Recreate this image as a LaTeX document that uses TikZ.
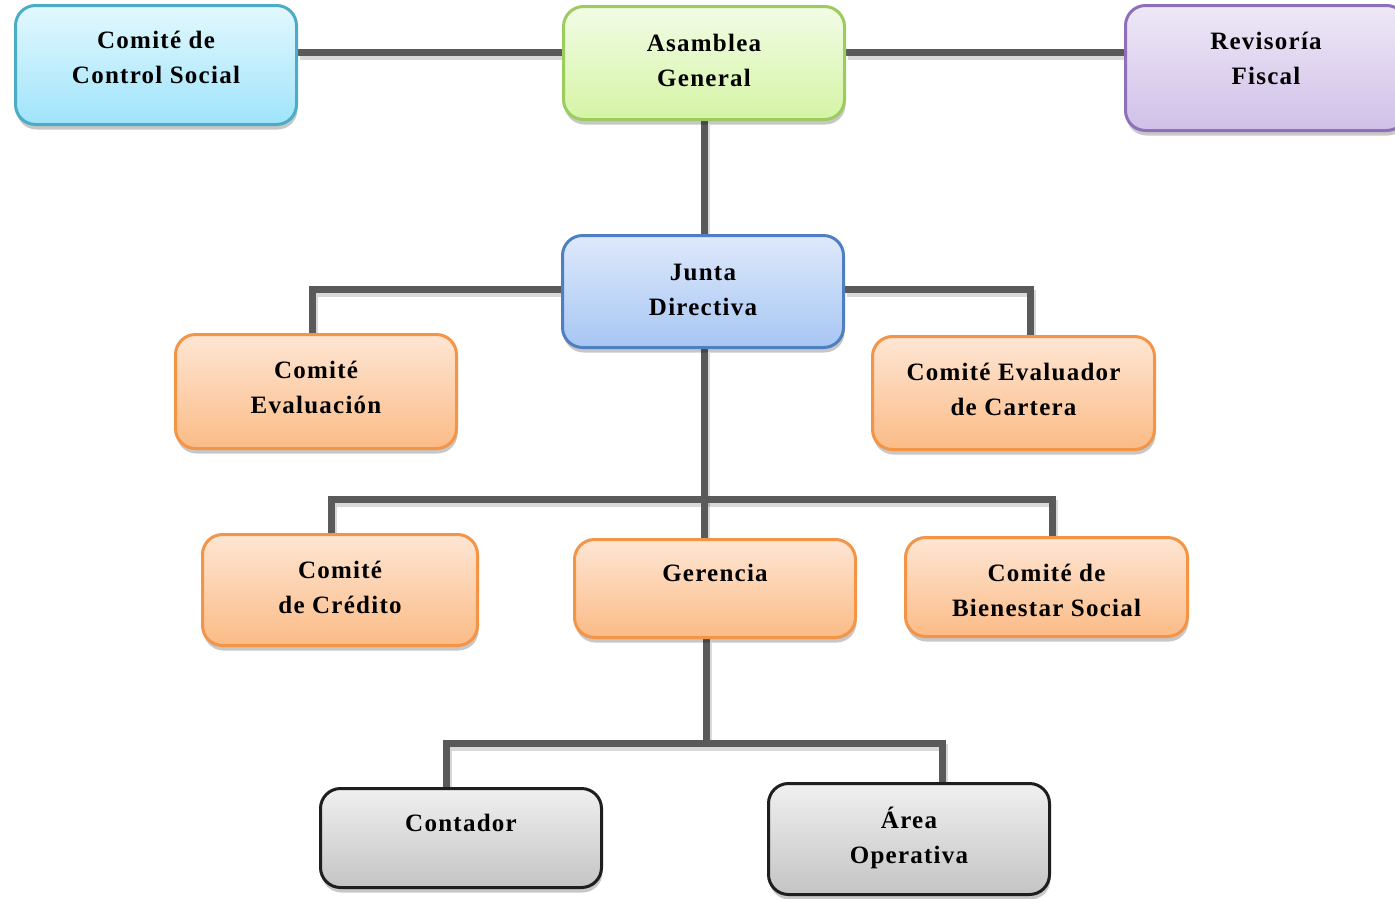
\documentclass[tikz,border=0pt]{standalone}
\usepackage{fontspec}
\newfontfamily\boxfont{Liberation Serif}[LetterSpace=5]
\usetikzlibrary{shadows}
\pgfdeclarelayer{background}
\pgfsetlayers{background,main}
\definecolor{cyanT}{HTML}{E3F8FE}\definecolor{cyanB}{HTML}{9FE4FB}\definecolor{cyanD}{HTML}{4AACC5}
\definecolor{greenT}{HTML}{F2FCE6}\definecolor{greenB}{HTML}{D5F4A5}\definecolor{greenD}{HTML}{9CCB5E}
\definecolor{purT}{HTML}{EEE8F6}\definecolor{purB}{HTML}{D0C0E8}\definecolor{purD}{HTML}{8E6FBA}
\definecolor{bluT}{HTML}{DEE9FB}\definecolor{bluB}{HTML}{A7C6F3}\definecolor{bluD}{HTML}{4F7FC0}
\definecolor{orT}{HTML}{FEE6D4}\definecolor{orB}{HTML}{FBBB86}\definecolor{orD}{HTML}{F39447}
\definecolor{grT}{HTML}{F0F0F0}\definecolor{grB}{HTML}{C4C4C4}\definecolor{grD}{HTML}{1E1E1E}
\definecolor{connC}{HTML}{5A5A5A}
\newcommand\lbl[2]{\raisebox{#1pt}[\height][\depth]{\begin{tabular}{@{}c@{}}#2\end{tabular}}}
\newcommand\connpaths[1]{%
  \draw[#1] ([yshift=13pt]cs.east) -- ([yshift=11pt]ag.west);
  \draw[#1] ([yshift=11pt]ag.east) -- ([yshift=16pt]rf.west);
  \draw[#1] (ag.south) -- (ag.south |- jd.north);
  \draw[#1] ([yshift=2.5pt]jd.west) -| ([xshift=-4pt]ce.north);
  \draw[#1] ([yshift=2.5pt]jd.east) -| ([xshift=16.5pt]cc.north);
  \draw[#1] (jd.south -| ag.south) -- (ge.north -| ag.south);
  \draw[#1] ([xshift=-9pt]cr.north) |- (bj) -| ([xshift=5.5pt]bs.north);
  \draw[#1] ([xshift=-9pt]ge.south) -- (gj);
  \draw[#1] ([xshift=-15pt]co.north) |- (gj) -| ([xshift=33pt]ao.north);
}
\tikzset{
  box/.style={rectangle, rounded corners=20pt, line width=3pt, minimum width=281pt, inner sep=0pt,
    font=\boxfont\bfseries\fontsize{25}{35}\selectfont, text=black,
    drop shadow={shadow xshift=1pt, shadow yshift=-5pt, opacity=0.22, fill=black}},
  cyanbox/.style={box, draw=cyanD, top color=cyanT, bottom color=cyanB},
  greenbox/.style={box, draw=greenD, top color=greenT, bottom color=greenB},
  purbox/.style={box, draw=purD, top color=purT, bottom color=purB},
  blubox/.style={box, draw=bluD, top color=bluT, bottom color=bluB},
  orbox/.style={box, draw=orD, top color=orT, bottom color=orB},
  grbox/.style={box, draw=grD, top color=grT, bottom color=grB},
  conn/.style={draw=connC, line width=7pt, line join=miter},
  connsh/.style={draw=black, opacity=0.15, line width=7pt, line join=miter},
}
\begin{document}
\begin{tikzpicture}[x=1pt,y=-1pt]
\useasboundingbox (0,0) rectangle (1395,898);
\clip (0,0) rectangle (1395,898);
% boxes
\node[cyanbox, minimum height=119pt] (cs) at (156,65) {\lbl{6.5}{Comité de\\Control Social}};
\node[greenbox, minimum height=113pt] (ag) at (704,63) {\lbl{1.5}{Asamblea\\General}};
\node[purbox, minimum height=125pt] (rf) at (1266,68) {\lbl{8.5}{Revisoría\\Fiscal}};
\node[blubox, minimum height=112pt] (jd) at (703,291.5) {\lbl{1}{Junta\\Directiva}};
\node[orbox, minimum height=114pt] (ce) at (316,391.5) {\lbl{3}{Comité\\Evaluación}};
\node[orbox, minimum height=113pt, minimum width=282pt] (cc) at (1013.5,393) {\lbl{2.5}{Comité Evaluador\\de Cartera}};
\node[orbox, minimum height=111pt, minimum width=275pt] (cr) at (340,590) {\lbl{1.5}{Comité\\de Crédito}};
\node[orbox, minimum height=98pt] (ge) at (715,588.5) {\lbl{14.5}{Gerencia}};
\node[orbox, minimum height=99pt, minimum width=282pt] (bs) at (1046.5,587) {\lbl{-4.5}{Comité de\\Bienestar Social}};
\node[grbox, minimum height=99pt] (co) at (461,838) {\lbl{14}{Contador}};
\node[grbox, minimum height=111pt] (ao) at (909,839) {\lbl{0.5}{Área\\Operativa}};
% junction points
\coordinate (bj) at (704,499);
\coordinate (gj) at (706,743);
% connectors behind the boxes
\begin{pgfonlayer}{background}
\fill[white] (0,0) rectangle (1395,898);
\begin{scope}[transform canvas={xshift=2pt, yshift=-4pt}]
\connpaths{connsh}
\end{scope}
\connpaths{conn}
\end{pgfonlayer}
\end{tikzpicture}
\end{document}
